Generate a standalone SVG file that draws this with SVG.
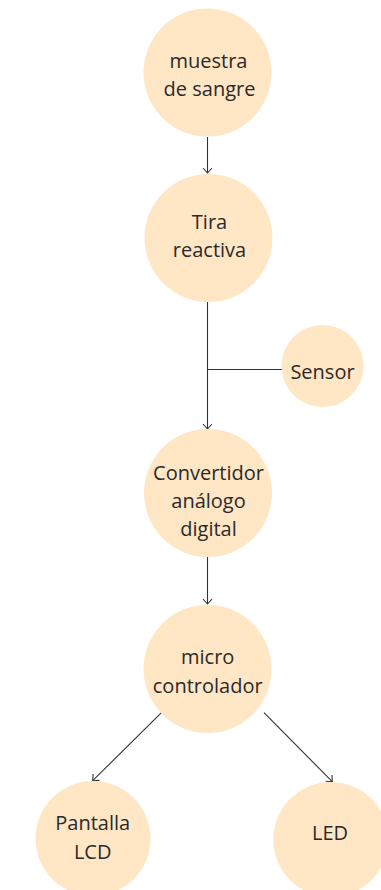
<svg xmlns="http://www.w3.org/2000/svg" width="381" height="890" viewBox="0 0 381 890">
<style>
.n{fill:#FFE6C5;}
.t{font-family:"Open Sans","Noto Sans",sans-serif;font-size:20px;fill:#2a2a2a;text-anchor:middle;}
.c{stroke:#333;stroke-width:1.1;fill:none;}
</style>
<defs>
<marker id="a" viewBox="-6 -6 8 12" refX="0" refY="0" markerWidth="8" markerHeight="12" markerUnits="userSpaceOnUse" orient="auto">
<polyline points="-5,-4.5 0,0 -5,4.5" fill="none" stroke="#333" stroke-width="1.1"/>
</marker>
</defs>
<g id="connectors">
<line class="c" x1="207.5" y1="137" x2="207.5" y2="173" marker-end="url(#a)"/>
<line class="c" x1="207.5" y1="302" x2="207.5" y2="429" marker-end="url(#a)"/>
<line class="c" x1="207.5" y1="369.5" x2="282" y2="369.5"/>
<line class="c" x1="207.5" y1="557" x2="207.5" y2="604" marker-end="url(#a)"/>
<line class="c" x1="161.7" y1="712.3" x2="92.7" y2="780.7" marker-end="url(#a)"/>
<line class="c" x1="264" y1="712.7" x2="332.3" y2="781.7" marker-end="url(#a)"/>
</g>
<g id="muestra">
<circle class="n" cx="207.5" cy="72.5" r="64"/>
<text class="t" x="208.5" y="68">muestra</text>
<text class="t" x="209.5" y="96">de sangre</text>
</g>
<g id="tira">
<circle class="n" cx="208.5" cy="238" r="64"/>
<text class="t" x="209.5" y="228.5">Tira</text>
<text class="t" x="209.5" y="256.5">reactiva</text>
</g>
<g id="sensor">
<circle class="n" cx="322.5" cy="366" r="41"/>
<text class="t" x="322.5" y="379">Sensor</text>
</g>
<g id="convertidor">
<circle class="n" cx="208" cy="493" r="64"/>
<text class="t" x="208.5" y="480">Convertidor</text>
<text class="t" x="208.5" y="508">análogo</text>
<text class="t" x="208.5" y="536">digital</text>
</g>
<g id="micro">
<circle class="n" cx="207.5" cy="669" r="64"/>
<text class="t" x="207.7" y="664">micro</text>
<text class="t" x="207.7" y="692.5">controlador</text>
</g>
<g id="pantalla">
<circle class="n" cx="93" cy="838.5" r="57.5"/>
<text class="t" x="92.7" y="830">Pantalla</text>
<text class="t" x="92.7" y="858.5">LCD</text>
</g>
<g id="led">
<circle class="n" cx="330.8" cy="839.5" r="57.5"/>
<text class="t" x="330" y="840">LED</text>
</g>
</svg>
